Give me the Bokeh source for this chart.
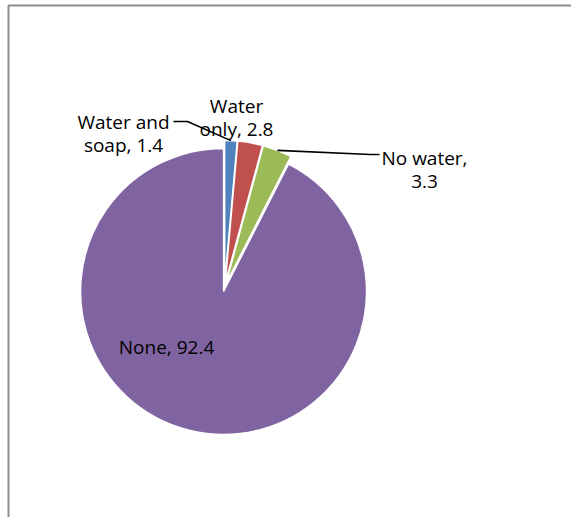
import math
import textwrap

from bokeh.plotting import figure
from bokeh.models import Range1d, ColumnDataSource
from bokeh.core.properties import value
from bokeh.embed import file_html
from bokeh.resources import INLINE

# Share of respondents by handwashing practice
categories = ["Water and soap", "Water only", "No water", "None"]
shares = [1.4, 2.8, 3.3, 92.4]
colors = ["#4F81BD", "#C0504D", "#9BBB59", "#8064A2"]

W, H = 571, 517
CX, CY = 224, 287      # pie centre (pixels from top-left)
R = 143                # pie radius in pixels
EXPLODE = 4            # outward offset of every slice
FONT = "Open Sans"
FONT_SIZE = 19
LINE_H = 23

# label anchors: centre x, first baseline y (pixels from top-left)
label_pos = {
    "Water and soap": (123, 121.5),
    "Water only": (236, 105),
    "No water": (424, 157.5),
    "None": (166, 346),
}
# leader line elbows for the labels that have one
leaders = {
    "Water and soap": [(187, 121), (173, 121)],
    "No water": [(370, 154), (379, 154)],
}


def sy(y):
    return H - y


p = figure(width=W, height=H, x_range=Range1d(0, W), y_range=Range1d(0, H),
           output_backend="svg", toolbar_location=None,
           x_axis_location=None, y_axis_location=None, min_border=0)
p.grid.visible = False
p.outline_line_color = None
p.background_fill_color = "white"
p.border_fill_color = "white"

# chart frame
p.line(x=[8, 8, W + 10], y=[sy(H + 10), sy(5), sy(5)],
       line_color="#8c8c8c", line_width=2)

total = sum(shares)
start_a, end_a, mid_cw, cxs, cys = [], [], [], [], []
acc = 0.0
for v in shares:
    t0 = acc / total * 2 * math.pi
    acc += v
    t1 = acc / total * 2 * math.pi
    m = (t0 + t1) / 2
    # clockwise from 12 o'clock -> counter-clockwise from +x
    start_a.append(math.pi / 2 - t1)
    end_a.append(math.pi / 2 - t0)
    mid_cw.append(m)
    cxs.append(CX + EXPLODE * math.sin(m))
    cys.append(sy(CY) + EXPLODE * math.cos(m))

src = ColumnDataSource(dict(x=cxs, y=cys, start=start_a, end=end_a,
                            color=colors, cat=categories, share=shares))
p.wedge(x="x", y="y", radius=R, start_angle="start", end_angle="end",
        fill_color="color", line_color="white", line_width=1.5, source=src)

# leader lines from the outer arc of the slice to the label
for i, cat in enumerate(categories):
    if cat not in leaders:
        continue
    m = mid_cw[i]
    ax = cxs[i] + R * math.sin(m)
    ay = cys[i] + R * math.cos(m)
    xs = [ax] + [pt[0] for pt in leaders[cat]]
    ys = [ay] + [sy(pt[1]) for pt in leaders[cat]]
    p.line(x=xs, y=ys, line_color="black", line_width=1.6)

# data labels "Category, value"
tx, ty, tt = [], [], []
for cat, v in zip(categories, shares):
    lines = textwrap.wrap(f"{cat}, {v}", 10)
    x0, y0 = label_pos[cat]
    for k, ln in enumerate(lines):
        tx.append(x0)
        ty.append(sy(y0 + k * LINE_H))
        tt.append(ln)

p.text(x=tx, y=ty, text=tt, text_font=value(FONT),
       text_font_size=f"{FONT_SIZE}px", text_align="center",
       text_baseline="alphabetic", text_color="black")

open("out.html", "w").write(file_html(p, INLINE))
